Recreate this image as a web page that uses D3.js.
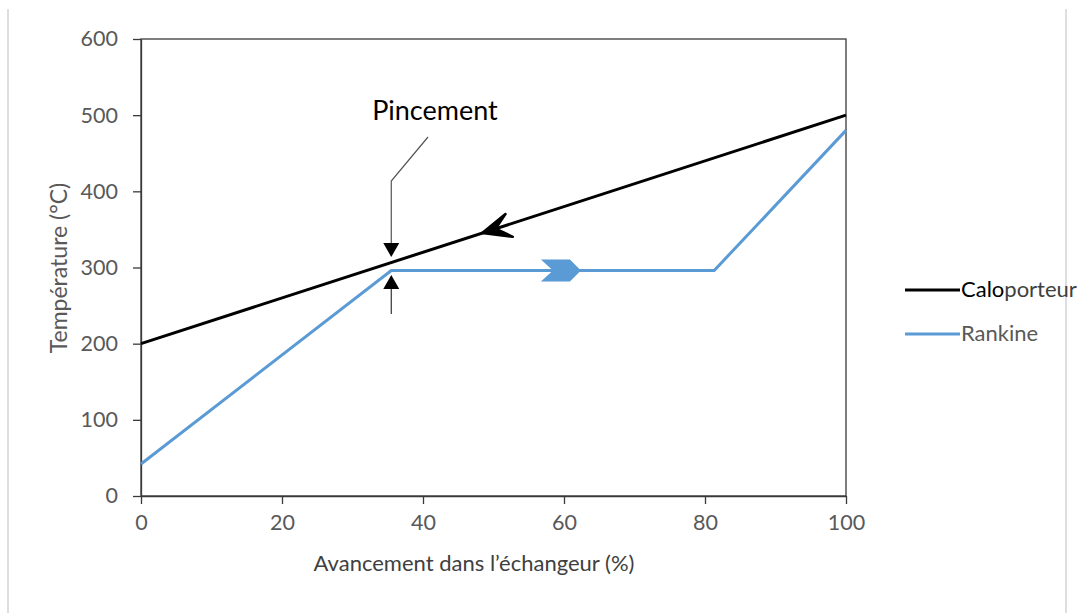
<!DOCTYPE html>
<html><head><meta charset="utf-8">
<script src="https://cdn.jsdelivr.net/npm/d3@7"></script>
<style>body{margin:0;background:#fff}svg{display:block}</style>
</head><body><svg id="c" width="1080" height="613"></svg>
<script>
const xTicks = [0, 20, 40, 60, 80, 100];
const yTicks = [0, 100, 200, 300, 400, 500, 600];
const caloX = [0, 100];
const caloY = [200, 500];
const rankineX = [0, 35.5, 81.3, 100];
const rankineY = [42, 296, 296, 480];
const seriesNames = ["Caloporteur", "Rankine"];
const seriesColors = ["#000000", "#5b9bd5"];
const xTitle = "Avancement dans l\u2019échangeur (%)";
const yTitle = "Température (°C)";
const annotation = "Pincement";

const svg = d3.select("#c");
const font = "Lato, 'Open Sans', sans-serif";
const x = d3.scaleLinear().domain([0, 100]).range([141, 846]);
const y = d3.scaleLinear().domain([0, 600]).range([496, 39]);

// outer frame lines
svg.append("line").attr("x1",8).attr("x2",8).attr("y1",9).attr("y2",613).attr("stroke","#c8c8c8").attr("stroke-width",1.2);
svg.append("line").attr("x1",1066).attr("x2",1066).attr("y1",9).attr("y2",613).attr("stroke","#c8c8c8").attr("stroke-width",1.2);

// plot box
svg.append("rect").attr("x",x(0)).attr("y",y(600)).attr("width",x(100)-x(0)).attr("height",y(0)-y(600))
  .attr("fill","none").attr("stroke","#3a3a3a").attr("stroke-width",1.3);

const axColor = "#3a3a3a";
const gx = svg.append("g").attr("transform",`translate(0,${y(0)})`)
  .call(d3.axisBottom(x).tickValues(xTicks).tickSize(8).tickPadding(11).tickSizeOuter(0));
const gy = svg.append("g").attr("transform",`translate(${x(0)},0)`)
  .call(d3.axisLeft(y).tickValues(yTicks).tickSize(8).tickPadding(15).tickSizeOuter(0));
[gx, gy].forEach(g => {
  g.select(".domain").attr("stroke", axColor).attr("stroke-width",1.3);
  g.selectAll(".tick line").attr("stroke", axColor).attr("stroke-width",1.3);
  g.selectAll(".tick text").attr("fill","#595959").attr("font-family",font).attr("font-size",21.5);
});

// axis titles
svg.append("text").attr("x",474).attr("y",571).attr("text-anchor","middle")
  .attr("font-family",font).attr("font-size",22).attr("fill","#404040").text(xTitle);
svg.append("text").attr("transform","translate(67,268) rotate(-90)").attr("text-anchor","middle")
  .attr("font-family",font).attr("font-size",23).attr("fill","#595959").text(yTitle);

const line = d3.line().x(d=>x(d[0])).y(d=>y(d[1]));
const calo = caloX.map((v,i)=>[v, caloY[i]]);
const rank = rankineX.map((v,i)=>[v, rankineY[i]]);
svg.append("path").attr("d", line(calo)).attr("fill","none").attr("stroke",seriesColors[0]).attr("stroke-width",3);
svg.append("path").attr("d", line(rank)).attr("fill","none").attr("stroke",seriesColors[1]).attr("stroke-width",3).attr("stroke-linejoin","miter");

// direction arrow on calo line (pointing toward decreasing x)
function caloAt(v){ return caloY[0] + (caloY[1]-caloY[0])*(v-caloX[0])/(caloX[1]-caloX[0]); }
{
  const tx = x(48.4), ty = y(caloAt(48.4));
  const ang = Math.atan2(y(caloAt(0))-y(caloAt(100)), x(0)-x(100)) * 180/Math.PI;
  svg.append("path").attr("transform",`translate(${tx},${ty}) rotate(${ang})`)
    .attr("d","M0,0 L-28,-13 L-14,0 L-28,11 Z").attr("fill","#000").attr("stroke","#000").attr("stroke-width",2.5).attr("stroke-linejoin","round");
}
// chevron on rankine line
{
  const tx = x(62.4), ty = y(296);
  svg.append("path").attr("transform",`translate(${tx},${ty})`)
    .attr("d","M0,0 L-11,-11 L-40,-11 L-28,0 L-40,11 L-11,11 Z").attr("fill",seriesColors[1]);
}

// pincement annotation
const px = x(35.5);
svg.append("text").attr("x",435).attr("y",120).attr("text-anchor","middle")
  .attr("font-family",font).attr("font-size",27).attr("fill","#000").text(annotation);
svg.append("path").attr("d",`M428,137 L${px},181 L${px},244`).attr("fill","none").attr("stroke","#555").attr("stroke-width",1.2);
svg.append("path").attr("d",`M${px-8},243 L${px+8},243 L${px},257 Z`).attr("fill","#000");
svg.append("line").attr("x1",px).attr("x2",px).attr("y1",314).attr("y2",286).attr("stroke","#333").attr("stroke-width",1.2);
svg.append("path").attr("d",`M${px-8},289 L${px+8},289 L${px},275 Z`).attr("fill","#000");

// legend
const leg = svg.append("g");
[0,1].forEach(i => {
  const ly = 290 + i*44;
  leg.append("line").attr("x1",905).attr("x2",960).attr("y1",ly).attr("y2",ly).attr("stroke",seriesColors[i]).attr("stroke-width",3);
});
const t0 = leg.append("text").attr("x",961).attr("y",297).attr("font-family",font).attr("font-size",22);
t0.append("tspan").attr("fill","#000").text(seriesNames[0].slice(0,4));
t0.append("tspan").attr("fill","#404040").text(seriesNames[0].slice(4));
leg.append("text").attr("x",961).attr("y",341).attr("font-family",font).attr("font-size",22).attr("fill","#595959").text(seriesNames[1]);
</script></body></html>
